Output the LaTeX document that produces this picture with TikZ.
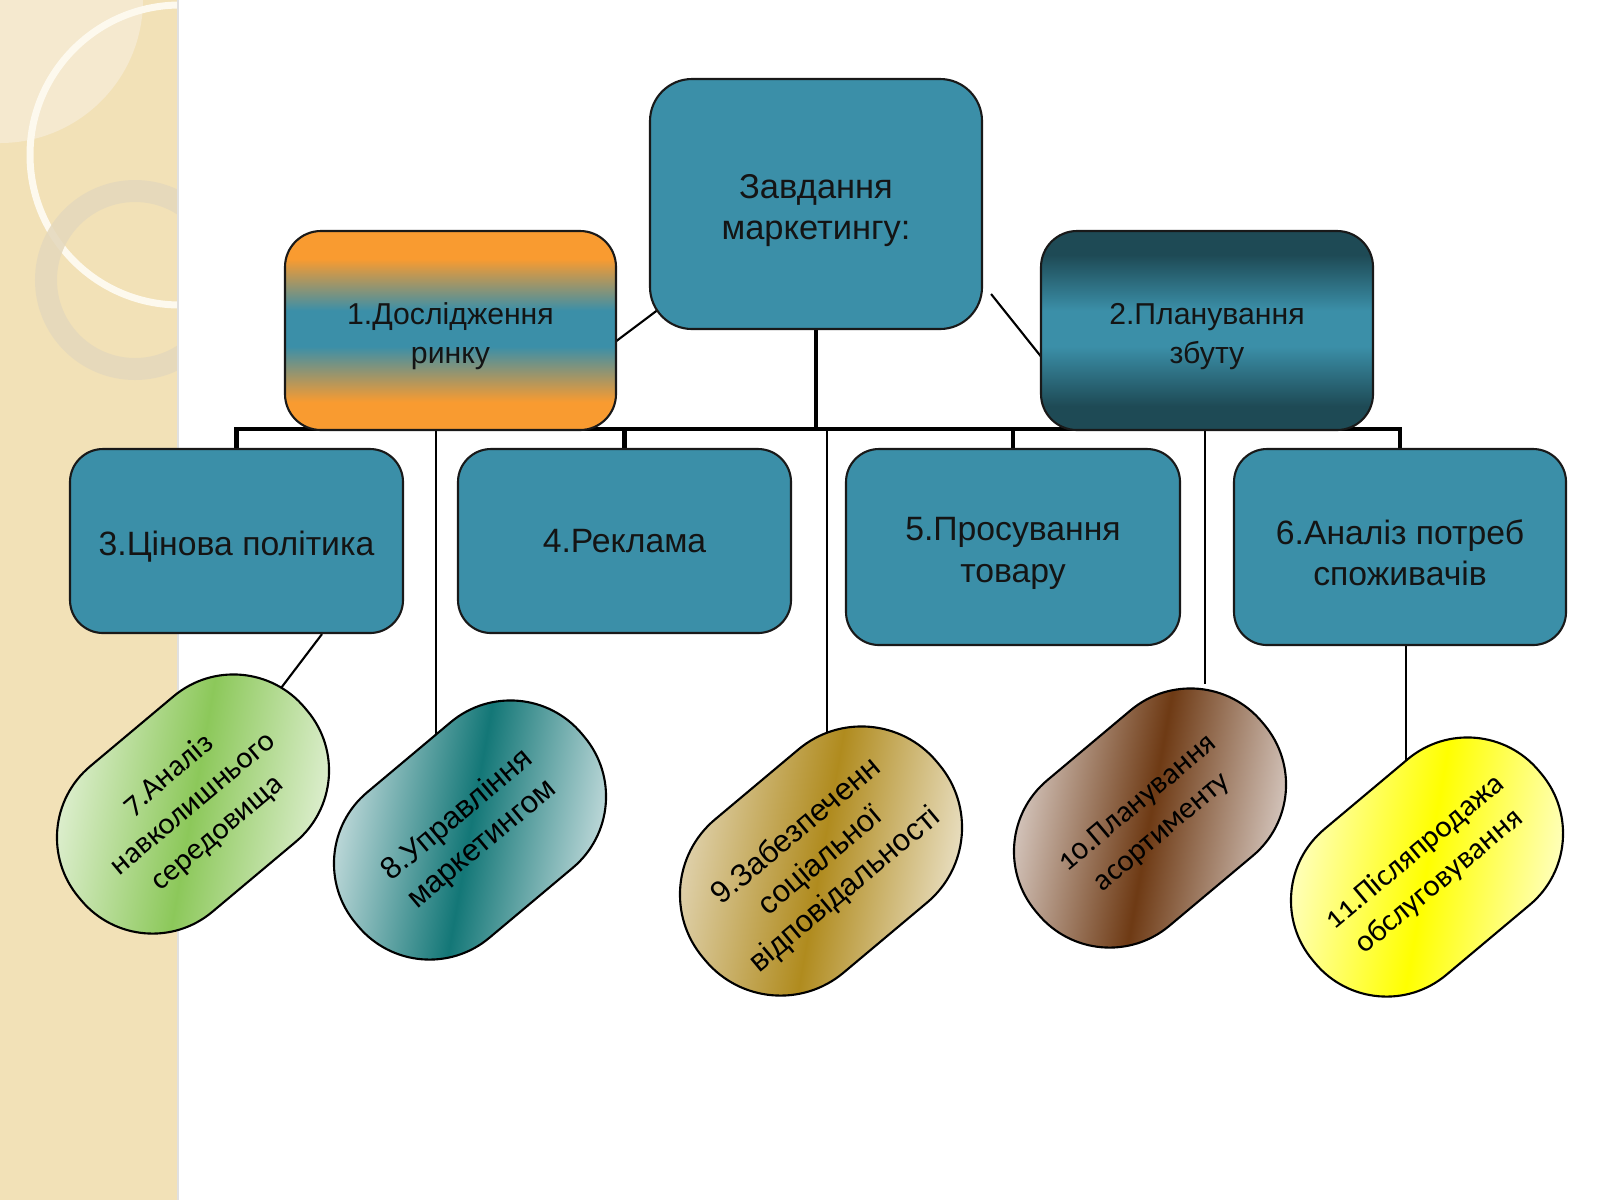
\documentclass[tikz,border=0pt]{standalone}
\usepackage{fontspec}
\setmainfont{Liberation Sans}
\newfontfamily\calfont[Numbers=OldStyle]{Carlito}
\usetikzlibrary{backgrounds}
\definecolor{tealA}{HTML}{3B8FA8}
\definecolor{orangeA}{HTML}{F99B30}
\definecolor{darkA}{HTML}{1E4A55}
\definecolor{txtA}{HTML}{141414}
\definecolor{stripC}{HTML}{F2E1B7}
\definecolor{stripL}{HTML}{F5E9CF}
\definecolor{ringW}{HTML}{FDF9EE}
\definecolor{ringG}{HTML}{E4D8BC}
\definecolor{gEdge}{HTML}{F6FAF2}
\definecolor{gMid}{HTML}{8CC85A}
\definecolor{tEdge}{HTML}{F2F6F7}
\definecolor{tMid}{HTML}{137777}
\definecolor{yEdgeL}{HTML}{EEE7D8}
\definecolor{yEdgeR}{HTML}{FAF8F3}
\definecolor{yMid}{HTML}{B08B1E}
\definecolor{bEdge}{HTML}{F3EFEF}
\definecolor{bMid}{HTML}{6E3A14}
\definecolor{lEdge}{HTML}{FFFFF6}
\definecolor{lMid}{HTML}{FFFF00}
\pgfdeclareverticalshading{nOneShade}{100bp}{color(0bp)=(orangeA); color(25bp)=(orangeA);
  color(32bp)=(orangeA); color(46bp)=(tealA); color(55bp)=(tealA); color(68bp)=(orangeA); color(75bp)=(orangeA); color(100bp)=(orangeA)}
\pgfdeclareverticalshading{nTwoShade}{100bp}{color(0bp)=(darkA); color(25bp)=(darkA);
  color(31bp)=(darkA); color(46bp)=(tealA); color(55bp)=(tealA); color(69bp)=(darkA); color(75bp)=(darkA); color(100bp)=(darkA)}
\newcommand{\lowerA}{\rule{0pt}{1.08em}}
\tikzset{
  box/.style={draw=black!90, line width=0.6pt, fill=tealA, rounded corners=0.33cm,
    align=center, text=txtA, inner sep=0pt, font=\fontsize{9.6}{11.9}\selectfont},
  pill/.style={draw=black, line width=0.6pt, rounded corners=0.93cm,
    minimum width=2.95cm, minimum height=1.9cm, rotate=40, align=center,
    text=black, inner sep=0pt},
  pillshade/.style 2 args={left color=#1, right color=#1, middle color=#2, shading angle=80},
  pillfont/.style={font=\fontsize{8.8}{10.8}\selectfont},
  calpill/.style={font=\calfont\fontsize{8.8}{10.8}\selectfont},
  busline/.style={line width=1.3pt, black, line join=miter},
  thinline/.style={line width=0.6pt, black},
}
\begin{document}
\begin{tikzpicture}
\useasboundingbox (0,0) rectangle (16,-12);
\begin{scope}[on background layer]
  \fill[white] (0,0) rectangle (16,-12);
  \begin{scope}
    \clip (0,0) rectangle (1.77,-12);
    \fill[stripC] (0,0) rectangle (1.77,-12);
    \fill[stripL] (0,0) -- (1.43,0) arc[start angle=0, end angle=-90, radius=1.43] -- cycle;
    \draw[ringW, line width=0.07cm] (1.80,-1.55) circle[radius=1.50];
    \draw[ringG, line width=0.22cm, opacity=0.85] (1.35,-2.80) circle[radius=0.89];
  \end{scope}
  \draw[black!12, line width=0.02cm] (1.78,0) -- (1.78,-12);
\end{scope}

% main boxes
\node[box, minimum width=3.32cm, minimum height=2.50cm, rounded corners=0.42cm,
  font=\fontsize{9.8}{11.9}\selectfont] (top) at (8.16,-2.04) {\lowerA Завдання\\маркетингу:};
\node[box, minimum width=3.31cm, minimum height=1.99cm, rounded corners=0.36cm,
  shading=nOneShade, font=\fontsize{8.6}{11.1}\selectfont] (n1) at (4.505,-3.305) {\lowerA 1.Дослідження\\ринку};
\node[box, minimum width=3.32cm, minimum height=1.99cm, rounded corners=0.36cm,
  shading=nTwoShade, font=\fontsize{8.6}{11.1}\selectfont] (n2) at (12.07,-3.305) {\lowerA 2.Планування\\збуту};
\node[box, minimum width=3.33cm, minimum height=1.84cm] (n3) at (2.365,-5.41) {\lowerA 3.Цінова політика};
\node[box, minimum width=3.33cm, minimum height=1.84cm] (n4) at (6.245,-5.41) {\rule[-0.21em]{0pt}{1.08em}4.Реклама};
\node[box, minimum width=3.34cm, minimum height=1.96cm] (n5) at (10.13,-5.47) {\lowerA 5.Просування\\товару};
\node[box, minimum width=3.32cm, minimum height=1.96cm] (n6) at (14.00,-5.47) {\lowerA 6.Аналіз потреб\\споживачів};

% pills
\node[pill, calpill, pillshade={gEdge}{gMid}] (e7) at (1.93,-8.04)
  {7.Аналіз\\навколишнього\\середовища};
\node[pill, pillfont, pillshade={tEdge}{tMid}] (e8) at (4.70,-8.30)
  {8.Управління\\маркетингом};
\node[pill, pillfont, minimum width=3.05cm, minimum height=2.0cm, rounded corners=0.98cm,
  left color=yEdgeL, right color=yEdgeR, middle color=yMid, shading angle=80] (e9) at (8.21,-8.61)
  {9.Забезпеченн\\соціальної\\відповідальності};
\node[pill, calpill, pillshade={bEdge}{bMid}] (e10) at (11.50,-8.18)
  {10.Планування\\асортименту};
\node[pill, calpill, pillshade={lEdge}{lMid}] (e11) at (14.27,-8.67)
  {11.Післяпродажа\\обслуговування};

% connectors
\begin{scope}[on background layer]
  \coordinate (busY) at (0,-4.29);
  \draw[busline] (n3.north) -- (n3.north |- busY) -- (n6.north |- busY) -- (n6.north);
  \draw[busline] (top.south) -- (top.south |- busY);
  \draw[busline] (n4.north) -- (n4.north |- busY);
  \draw[busline] (n5.north) -- (n5.north |- busY);
  \draw[thinline] ([shift={(-0.04,-0.13)}]n1.east) -- ([shift={(0.14,-1.02)}]top.west);
  \draw[thinline] ([shift={(0.08,-0.90)}]top.east) -- ([shift={(0.09,-0.36)}]n2.west);
  \draw[thinline] ([xshift=-0.145cm]n1.south) -- ([xshift=-0.145cm]n1.south |- e8.center);
  \draw[thinline] ([xshift=0.11cm]top.south |- busY) -- ([xshift=0.11cm]top.south |- e9.center);
  \draw[thinline] ([xshift=-0.02cm]n2.south) -- ++(0,-2.53);
  \draw[thinline] ([xshift=0.06cm]n6.south) -- ([xshift=0.06cm]n6.south |- e11.center);
  \draw[thinline] ([xshift=0.855cm]n3.south) -- (e7.center);
\end{scope}
\end{tikzpicture}
\end{document}
